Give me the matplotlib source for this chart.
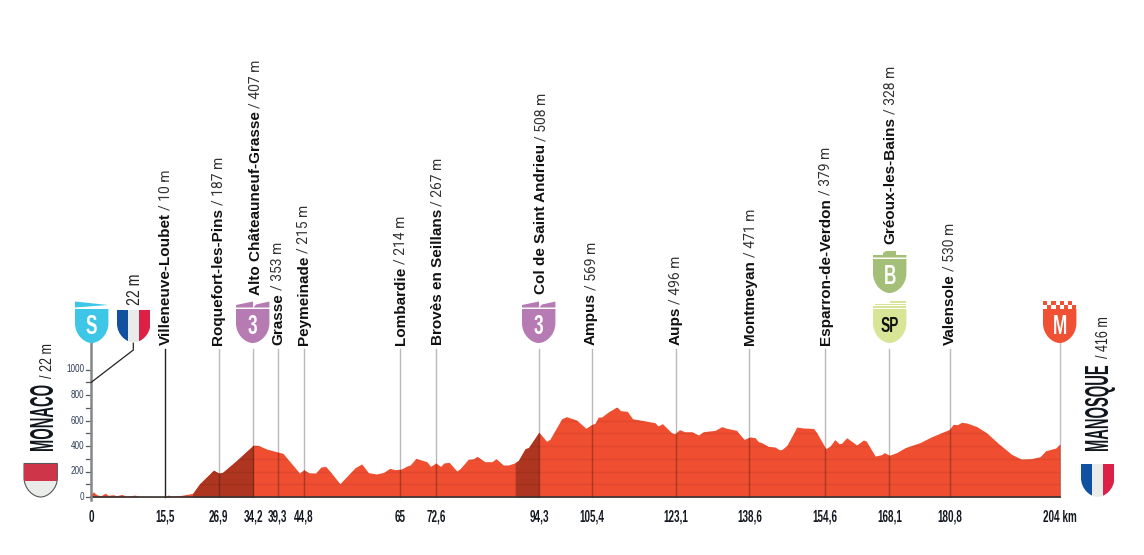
import os
import tempfile
import matplotlib
matplotlib.use('Agg')
import matplotlib.pyplot as plt
from matplotlib import font_manager as fm
from matplotlib.patches import PathPatch, Polygon, Rectangle
from matplotlib.path import Path
from fontTools.ttLib import TTFont

# perfil de la etapa: km / altitud
km_pts = [0, 0.5, 1.2, 2.1, 3, 3.6, 4.7, 5.3, 6.5, 7.4, 9.3, 10, 15.2, 16.3, 17, 19, 21.4, 22.9, 25.8, 26.9,
          27.7, 30.7, 33.1, 34.2, 35.2, 37, 39.3, 40.4, 42, 43.9, 44.8, 45.9, 47.3, 48.4, 49.4, 50.5, 52.4,
          55.6, 57, 58.4, 60.1, 61.6, 62.9, 64, 65.4, 66.5, 67.2, 68.4, 70.7, 71.5, 72.6, 73.6, 74.3, 75.4,
          77, 77.7, 79.4, 80.5, 81.3, 82.9, 84.4, 85.3, 86.8, 87.9, 89.3, 90, 91.4, 92.1, 94.3, 95.9, 96.6,
          99.1, 100.1, 102.2, 104.2, 105.4, 106.1, 106.8, 107.5, 108.9, 110.7, 111.5, 112.9, 114, 118.7,
          119.4, 120.3, 122.2, 122.9, 123.9, 125, 126.5, 127.9, 128.9, 131.4, 132.8, 133.8, 135.9, 136.6,
          137.5, 138.7, 139.8, 140.5, 141.2, 142.6, 144, 144.9, 145.4, 146.5, 148.6, 150, 152.1, 152.8,
          154.7, 155.6, 156.6, 157.5, 158, 159.1, 161.2, 162.6, 163.2, 165.1, 166.4, 167, 168.1, 169.6,
          171.4, 174.5, 177, 180.7, 181.5, 182.4, 183.3, 184.4, 186.5, 188.6, 191, 193.8, 195.8, 198,
          199.8, 201, 203.1, 204]
ele_pts = [22, 40, 18, 10, 30, 13, 18, 10, 20, 6, 15, 5, 3, 15, 6, 13, 28, 105, 210, 187,
           193, 288, 370, 407, 405, 376, 353, 343, 272, 188, 215, 190, 188, 235, 240, 193, 104,
           230, 259, 191, 180, 193, 225, 214, 220, 243, 251, 303, 277, 240, 267, 240, 267, 272,
           204, 222, 295, 300, 319, 277, 277, 300, 251, 251, 269, 288, 379, 387, 508, 437, 452,
           614, 630, 604, 539, 569, 578, 627, 627, 667, 706, 677, 672, 614, 583,
           557, 575, 505, 496, 528, 512, 512, 486, 512, 523, 552, 539, 523, 491,
           452, 471, 465, 434, 426, 397, 392, 371, 371, 405, 549, 541, 538, 504,
           379, 400, 450, 418, 421, 465, 408, 447, 439, 321, 332, 348, 328, 348,
           387, 426, 473, 530, 570, 567, 586, 580, 552, 502, 421, 335, 298, 301,
           316, 363, 384, 416]

# puertos (tramo oscuro)
climb_start = [21.4, 89.3]
climb_end = [34.2, 94.3]

# puntos de paso
place_km = [15.5, 26.9, 34.2, 39.3, 44.8, 65, 72.6, 94.3, 105.4, 123.1, 138.6, 154.6, 168.1, 180.8]
place_names = ['Villeneuve-Loubet', 'Roquefort-les-Pins', 'Alto Châteauneuf-Grasse', 'Grasse', 'Peymeinade',
               'Lombardie', 'Brovès en Seillans', 'Col de Saint Andrieu', 'Ampus', 'Aups', 'Montmeyan',
               'Esparron-de-Verdon', 'Gréoux-les-Bains', 'Valensole']
place_alt = ['10 m', '187 m', '407 m', '353 m', '215 m', '214 m', '267 m', '508 m', '569 m', '496 m', '471 m',
             '379 m', '328 m', '530 m']
km_ticks = [0, 15.5, 26.9, 34.2, 39.3, 44.8, 65, 72.6, 94.3, 105.4, 123.1, 138.6, 154.6, 168.1, 180.8, 204]
km_labels = ['0', '15,5', '26,9', '34,2', '39,3', '44,8', '65', '72,6', '94,3', '105,4', '123,1', '138,6',
             '154,6', '168,1', '180,8', '204 km']
alt_ticks = [0, 200, 400, 600, 800, 1000]

RED = '#EF4E30'
DARK_RED = '#AE3520'
BLUE = '#1250A0'
WHITE = '#EAECEA'
FR_RED = '#DC2046'

W, H = 1144, 555
X0, PX_KM = 91, 4.75
Y0, PX_M = 497, 0.1275


# no hay fuente estrecha instalada: se estrecha una copia de Liberation Sans
def condensed(weight, sx, family):
    src = fm.findfont(fm.FontProperties(family='Liberation Sans', weight=weight))
    f = TTFont(src)
    glyf = f['glyf']
    for name in f.getGlyphOrder():
        g = glyf[name]
        if g.isComposite():
            for c in g.components:
                c.x = round(c.x * sx)
        elif g.numberOfContours > 0:
            g.coordinates.scale((sx, 1))
            g.coordinates.toInt()
        adv, lsb = f['hmtx'].metrics[name]
        f['hmtx'].metrics[name] = (round(adv * sx), round(lsb * sx))
    for rec in f['name'].names:
        if rec.nameID in (1, 4, 16):
            rec.string = family
    out = os.path.join(tempfile.gettempdir(), family.replace(' ', '') + '.ttf')
    f.save(out)
    fm.fontManager.addfont(out)
    return family


TICK_FONT = condensed('bold', 0.62, 'Perfil Tick')
TITLE_FONT = condensed('bold', 0.44, 'Perfil Title')
THIN_FONT = condensed('normal', 0.72, 'Perfil Thin')

fig = plt.figure(figsize=(W / 100, H / 100), dpi=100)
ax = fig.add_axes([0, 0, 1, 1])
ax.set_xlim(-X0 / PX_KM, (W - X0) / PX_KM)
ax.set_ylim((Y0 - H) / PX_M, Y0 / PX_M)
ax.axis('off')

# capa en pixeles para escudos y rotulos
deco = fig.add_axes([0, 0, 1, 1], facecolor='none')
deco.set_xlim(0, W)
deco.set_ylim(H, 0)
deco.axis('off')


def to_km(px):
    return (px - X0) / PX_KM


def to_m(py):
    return (Y0 - py) / PX_M


# perfil
area = ax.fill_between(km_pts, ele_pts, 0, color=RED, lw=0, zorder=2)
clip = area.get_paths()[0]
for a, b in zip(climb_start, climb_end):
    ax.fill_between(km_pts, ele_pts, 0, where=[a <= k <= b for k in km_pts], color=DARK_RED, lw=0, zorder=2.5)
for alt in range(100, 800, 100):
    ln = ax.plot([0, 204], [alt, alt], color='black', alpha=0.07, lw=1, zorder=3)[0]
    ln.set_clip_path(clip, ax.transData)

# lineas verticales
for k in place_km:
    if k == 15.5:
        ax.plot([k, k], [0, to_m(349)], color='#222222', lw=1, zorder=4)
    else:
        ax.plot([k, k], [0, to_m(349)], color='black', alpha=0.27, lw=1, zorder=4)
ax.plot([204, 204], [0, to_m(343)], color='black', alpha=0.25, lw=1, zorder=4)
ax.plot([0, 204], [0, 0], color='#333333', lw=1.2, zorder=5)
ax.plot([0, 0], [to_m(500), to_m(343)], color='#85868a', lw=1.8, zorder=5)
ax.plot([to_km(133.3), to_km(133.3), 0], [to_m(343), to_m(350), to_m(382.5)], color='#222222', lw=0.9, zorder=5)

# eje de altitud
for alt in range(0, 1100, 100):
    ax.plot([to_km(86), 0], [alt, alt], color='#55585c', lw=0.9, zorder=4)
for alt in alt_ticks:
    ax.text(to_km(84.5), alt, str(alt), ha='right', va='center', family=THIN_FONT, fontsize=8, color='#2b3a55')

for k, lab in zip(km_ticks, km_labels):
    ax.text(k, to_m(517), lab, ha='center', va='center', family=TICK_FONT, weight='bold', fontsize=11.5,
            color='#141820')


# texto en dos partes: nombre en negrita y altitud fina a continuacion
def two_part(x, bottom, name, alt, name_kw, alt_kw, gap=3, dx=0):
    t = deco.text(x, bottom, name, rotation=90, ha='center', va='bottom', **name_kw)
    bb = t.get_window_extent(fig.canvas.get_renderer())
    top = H - bb.y1
    deco.text(x + dx, top - gap, alt, rotation=90, ha='center', va='bottom', **alt_kw)


name_style = dict(family='Liberation Sans', weight='bold', fontsize=11, color='#111111')
alt_style = dict(family='Roboto', fontsize=10, color='#333333')
label_x = [165.5, 218.5, 255.5, 278, 304, 400.5, 437.5, 541, 591, 676, 750.5, 826, 890.5, 950]
label_bottom = [345, 345, 295, 345, 345, 345, 345, 294, 345, 345, 345, 345, 244, 345]
for x, b, n, alt in zip(label_x, label_bottom, place_names, place_alt):
    two_part(x, b, n, '/ ' + alt, name_style, alt_style)

deco.text(135.5, 305, '22 m', rotation=90, ha='center', va='bottom', family=THIN_FONT, fontsize=14, color='#222222')

big = dict(family=TITLE_FONT, weight='bold', fontsize=24, color='#11151c')
thin = dict(family=THIN_FONT, fontsize=12.5, color='#222222')
two_part(44, 450, 'MONACO', '/ 22 m', big, thin, gap=5, dx=3)
two_part(1099, 450, 'MANOSQUE', '/ 416 m', big, thin, gap=5, dx=4)


# escudo: rectangulo arriba y curva hasta el pico inferior
def shield_path(x, top, w=33.4, bottom=343):
    sh = bottom - top
    mid = top + sh * 0.42
    verts = [(x, top), (x + w, top), (x + w, mid),
             (x + w, mid + sh * 0.34), (x + w * 0.72, bottom), (x + w / 2, bottom),
             (x + w * 0.28, bottom), (x, mid + sh * 0.34), (x, mid), (x, top)]
    codes = [Path.MOVETO, Path.LINETO, Path.LINETO, Path.CURVE4, Path.CURVE4, Path.CURVE4,
             Path.CURVE4, Path.CURVE4, Path.CURVE4, Path.CLOSEPOLY]
    return Path(verts, codes)


def shield(x, top, color, letter, letter_color='white', bottom=343, size=20):
    deco.add_patch(PathPatch(shield_path(x, top, bottom=bottom), fc=color, ec='none'))
    deco.text(x + 16.7, (top + bottom) / 2 + 0.5, letter, ha='center', va='center', family=TICK_FONT, weight='bold',
              fontsize=size, color=letter_color)


def flag(x, top, bottom):
    sh = PathPatch(shield_path(x, top, bottom=bottom), fc='none', ec='none')
    deco.add_patch(sh)
    for i, c in enumerate([BLUE, WHITE, FR_RED]):
        r = Rectangle((x + i * 33.4 / 3, top), 33.4 / 3, bottom - top, fc=c, ec='none')
        deco.add_patch(r)
        r.set_clip_path(sh)


# salida
shield(75, 309, '#3EC6E6', 'S')
deco.add_patch(Polygon([(75, 301.5), (108, 305), (75, 307.5)], fc='#3EC6E6', ec='none'))
flag(117, 310, 342.5)

# puertos de 3a
for x in [236, 522]:
    shield(x, 309, '#B57BB2', '3')
    deco.add_patch(Polygon([(x, 307.5), (x, 305), (x + 17, 301.5), (x + 17, 307.5)], fc='#B57BB2', ec='none'))
    deco.add_patch(Polygon([(x + 17.5, 307.5), (x + 20, 304.5), (x + 33.4, 301.5), (x + 33.4, 307.5)], fc='#B57BB2',
                           ec='none'))

# bonificacion y sprint
shield(873, 259, '#A3BF78', 'B', bottom=293)
deco.add_patch(Polygon([(873, 257.5), (873, 255), (883, 255), (883, 253), (886, 251), (896, 251), (896, 255),
                        (906.4, 255), (906.4, 257.5)], fc='#A3BF78', ec='none'))
shield(873, 309, '#D9E596', 'SP', letter_color='#111111', size=16)
deco.add_patch(Rectangle((873, 306), 33.4, 1.8, fc='#D9E596', ec='none'))
deco.add_patch(Rectangle((875, 303.5), 31.4, 1.8, fc='#D9E596', ec='none'))
deco.add_patch(Rectangle((890, 301), 16.4, 1.8, fc='#D9E596', ec='none'))

# meta
shield(1043, 309, '#F05033', 'M')
cw = 33.4 / 8
for row in range(2):
    for col in range(8):
        if (row + col) % 2 == 0:
            deco.add_patch(Rectangle((1043 + col * cw, 301 + row * 4), cw, 4, fc='#F05033', ec='none'))

# banderas junto a los nombres
monaco = PathPatch(shield_path(24, 463.5, bottom=497), fc=WHITE, ec='#55585c', lw=0.8)
deco.add_patch(monaco)
rr = Rectangle((24, 463.5), 33.4, 17.5, fc='#CE3548', ec='none')
deco.add_patch(rr)
flag(1081, 464, 497)

fig.savefig('out.png', dpi=100)
